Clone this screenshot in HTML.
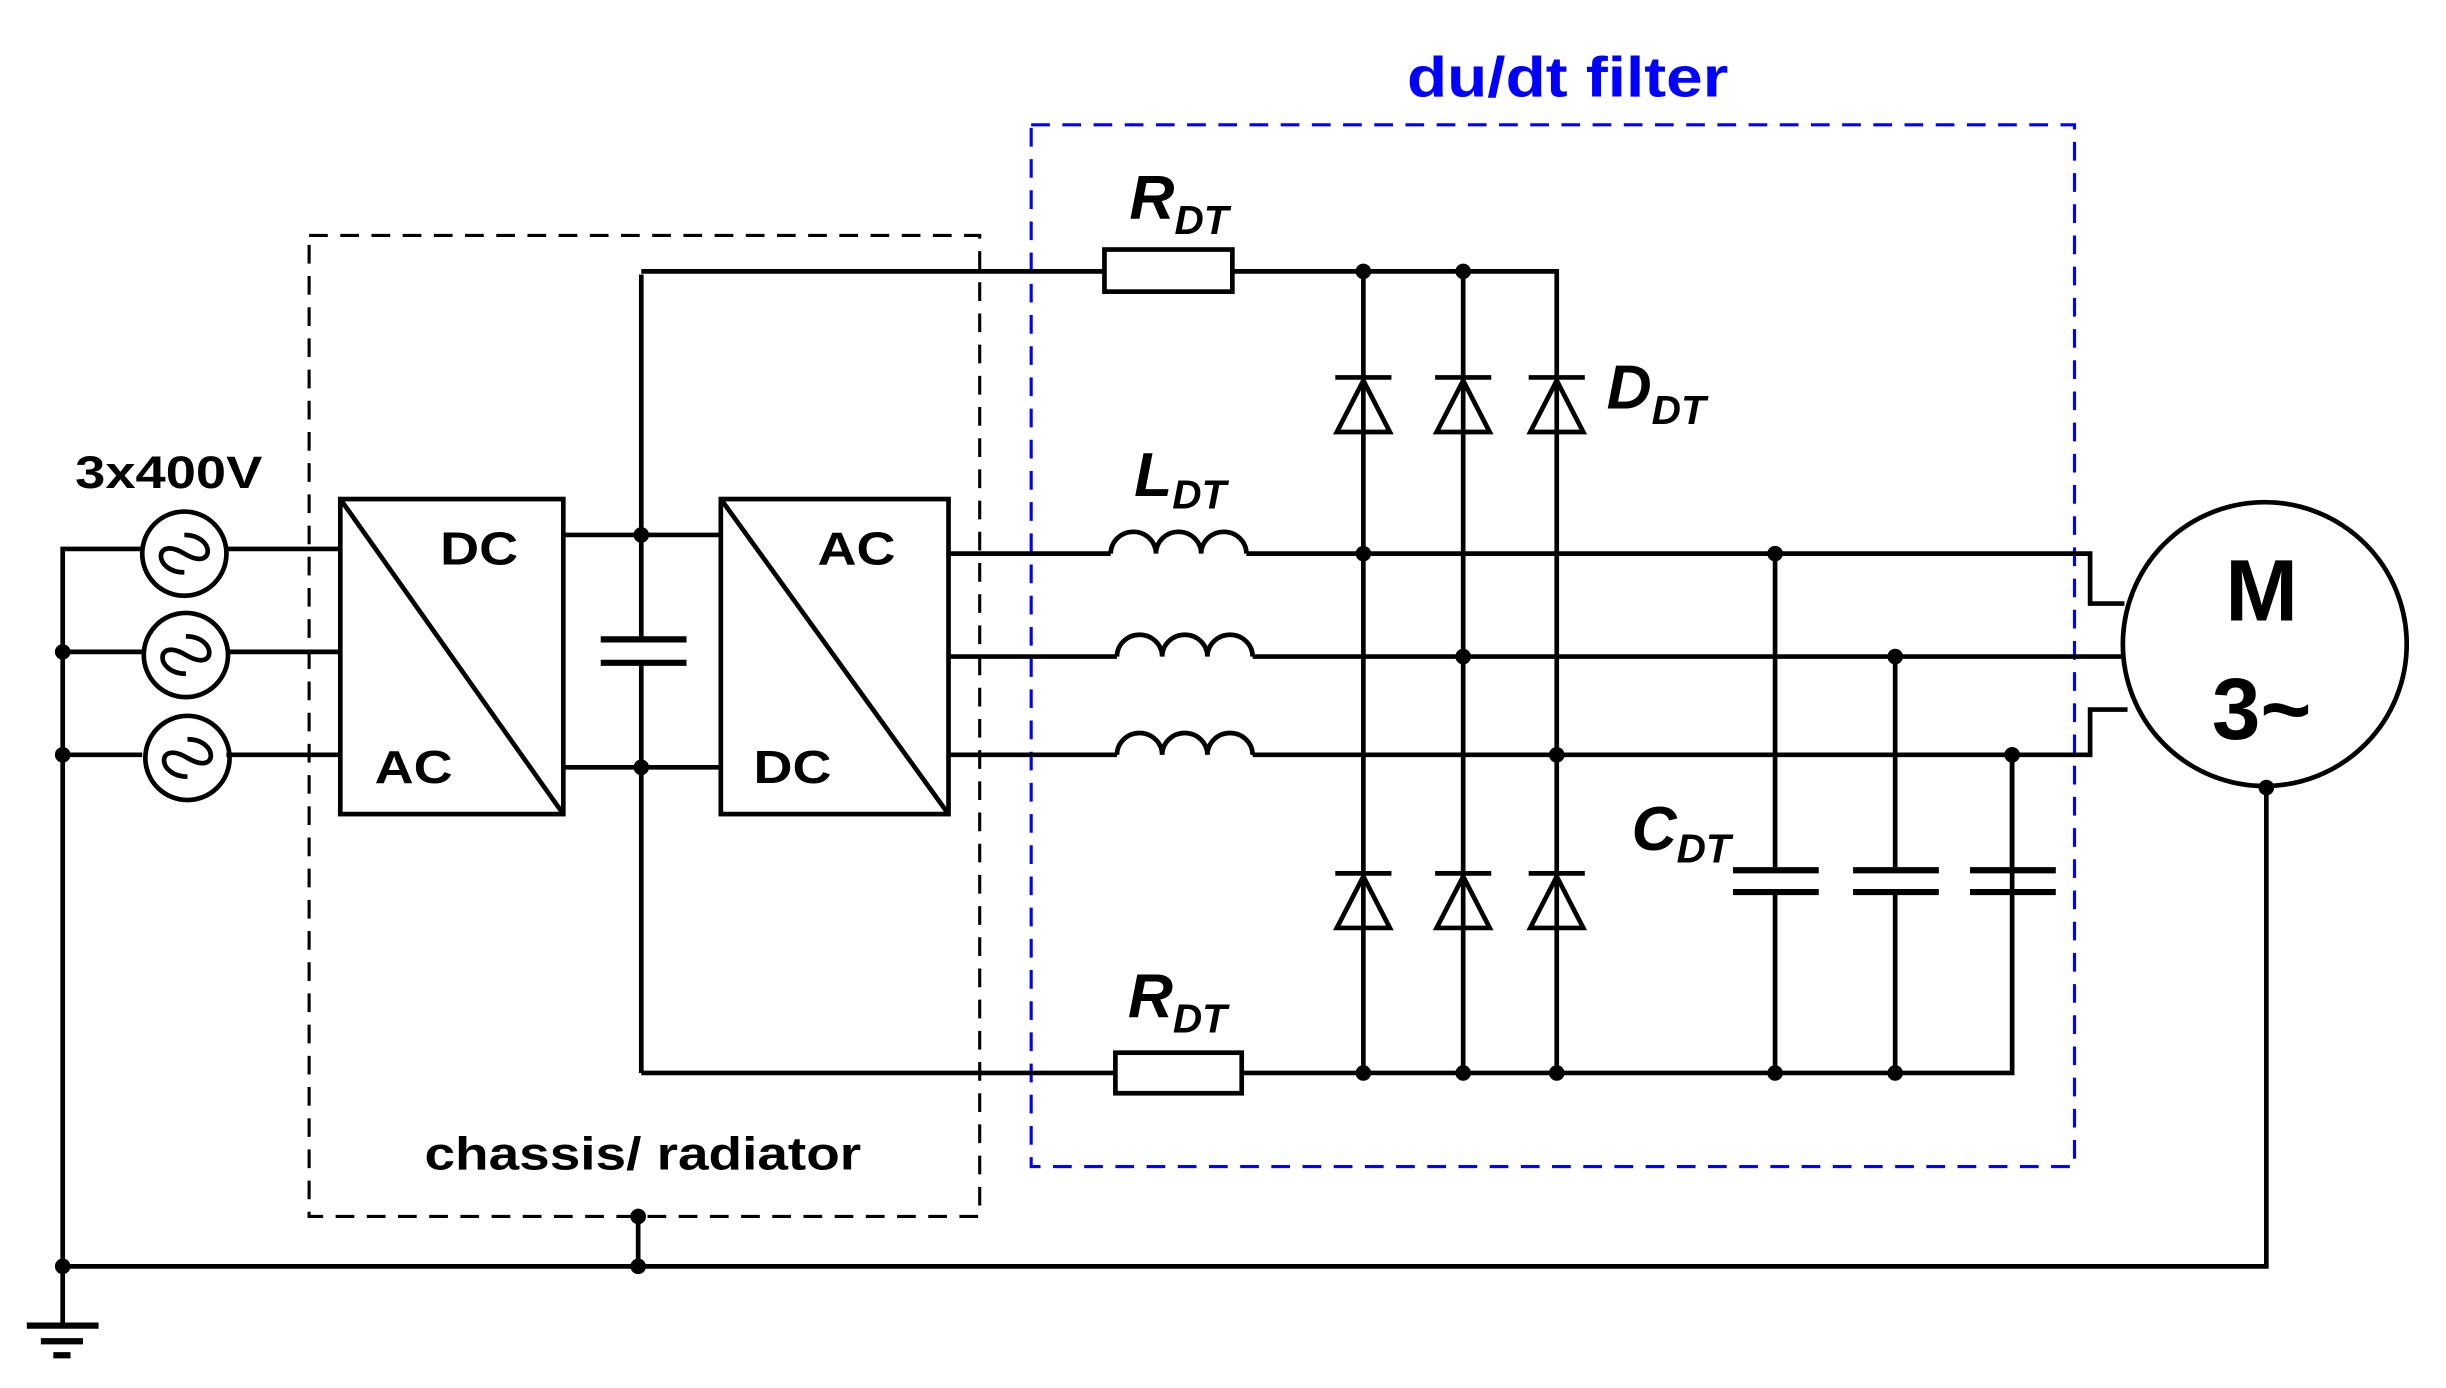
<!DOCTYPE html>
<html><head><meta charset="utf-8"><style>
html,body{margin:0;padding:0;background:#fff;}
svg{display:block;}
text{font-family:"Liberation Sans",sans-serif;font-weight:bold;}
</style></head><body>
<svg width="2446" height="1388" viewBox="0 0 1568 890" xmlns="http://www.w3.org/2000/svg">
<g fill="none" stroke="#000" stroke-width="3">
<rect x="198" y="151" width="430" height="629" stroke-dasharray="12,8" stroke-width="2"/>
<rect x="661" y="80" width="669" height="668" stroke="#0000ff" stroke-dasharray="12,8" stroke-width="2"/>
<polyline points="90,352 40,352 40,850"/>
<line x1="40" y1="418" x2="91" y2="418"/>
<line x1="40" y1="484" x2="91" y2="484"/>
<line x1="145" y1="352" x2="218" y2="352"/>
<line x1="145" y1="418" x2="218" y2="418"/>
<line x1="145" y1="484" x2="218" y2="484"/>
<circle cx="118" cy="355" r="27"/>
<circle cx="119" cy="420" r="27"/>
<circle cx="120" cy="486" r="27"/>
<path d="M106,355 C106,335 130,335 118,355 C106,375 130,375 130,355" transform="rotate(90 118 355)"/>
<path d="M107,420 C107,400 131,400 119,420 C107,440 131,440 131,420" transform="rotate(90 119 420)"/>
<path d="M108,486 C108,466 132,466 120,486 C108,506 132,506 132,486" transform="rotate(90 120 486)"/>
<rect x="218" y="320" width="143" height="202"/>
<line x1="218" y1="320" x2="361" y2="522"/>
<line x1="361" y1="343" x2="462" y2="343"/>
<line x1="361" y1="492" x2="462" y2="492"/>
<line x1="411" y1="176" x2="411" y2="410"/>
<line x1="411" y1="425" x2="411" y2="688"/>
<line x1="385" y1="410" x2="440" y2="410" stroke-width="4"/>
<line x1="385" y1="425" x2="440" y2="425" stroke-width="4"/>
<rect x="462" y="320" width="146" height="202"/>
<line x1="462" y1="320" x2="608" y2="522"/>
<line x1="411" y1="174" x2="708" y2="174"/>
<rect x="708" y="160" width="82" height="27"/>
<polyline points="790,174 998,174 998,688"/>
<line x1="411" y1="688" x2="715" y2="688"/>
<rect x="715" y="675" width="81" height="26"/>
<polyline points="796,688 1290,688 1290,484"/>
<line x1="608" y1="355" x2="712" y2="355"/>
<path d="M712,355 a14.5,14 0 0 1 29,0 a14.5,14 0 0 1 29,0 a14.5,14 0 0 1 29,0"/>
<polyline points="799,355 1340,355 1340,387 1362,387"/>
<line x1="608" y1="421" x2="716" y2="421"/>
<path d="M716,421 a14.5,14 0 0 1 29,0 a14.5,14 0 0 1 29,0 a14.5,14 0 0 1 29,0"/>
<line x1="803" y1="421" x2="1360" y2="421"/>
<line x1="608" y1="484" x2="716" y2="484"/>
<path d="M716,484 a14.5,14 0 0 1 29,0 a14.5,14 0 0 1 29,0 a14.5,14 0 0 1 29,0"/>
<polyline points="803,484 1340,484 1340,455 1364,455"/>
<line x1="874" y1="174" x2="874" y2="688"/>
<line x1="938" y1="174" x2="938" y2="688"/>
<g stroke-width="3">
<line x1="856" y1="242" x2="892" y2="242"/><polygon points="874,244 857,277 891,277"/>
<line x1="920" y1="242" x2="956" y2="242"/><polygon points="938,244 921,277 955,277"/>
<line x1="980" y1="242" x2="1016" y2="242"/><polygon points="998,244 981,277 1015,277"/>
<line x1="856" y1="560" x2="892" y2="560"/><polygon points="874,562 857,595 891,595"/>
<line x1="920" y1="560" x2="956" y2="560"/><polygon points="938,562 921,595 955,595"/>
<line x1="980" y1="560" x2="1016" y2="560"/><polygon points="998,562 981,595 1015,595"/>
</g>
<line x1="1138" y1="355" x2="1138" y2="556"/><line x1="1138" y1="570" x2="1138" y2="688"/>
<line x1="1215" y1="421" x2="1215" y2="556"/><line x1="1215" y1="570" x2="1215" y2="688"/>
<line x1="1290" y1="484" x2="1290" y2="556"/>
<g stroke-width="4">
<line x1="1111" y1="558" x2="1166" y2="558"/><line x1="1111" y1="572" x2="1166" y2="572"/>
<line x1="1188" y1="558" x2="1243" y2="558"/><line x1="1188" y1="572" x2="1243" y2="572"/>
<line x1="1263" y1="558" x2="1318" y2="558"/><line x1="1263" y1="572" x2="1318" y2="572"/>
</g>
<circle cx="1452" cy="413" r="91"/>
<polyline points="40,812 1453,812 1453,505"/>
<line x1="409" y1="780" x2="409" y2="812"/>
<line x1="17" y1="850" x2="63" y2="850" stroke-width="4"/>
<line x1="26" y1="860" x2="53" y2="860" stroke-width="4"/>
<line x1="34" y1="869" x2="45" y2="869" stroke-width="4"/>
</g>
<g fill="#000">
<circle cx="40" cy="418" r="5"/><circle cx="40" cy="484" r="5"/><circle cx="40" cy="812" r="5"/>
<circle cx="411" cy="343" r="5"/><circle cx="411" cy="492" r="5"/>
<circle cx="409" cy="780" r="5"/><circle cx="409" cy="812" r="5"/>
<circle cx="874" cy="174" r="5"/><circle cx="938" cy="174" r="5"/>
<circle cx="874" cy="355" r="5"/><circle cx="938" cy="421" r="5"/><circle cx="998" cy="484" r="5"/>
<circle cx="1138" cy="355" r="5"/><circle cx="1215" cy="421" r="5"/><circle cx="1290" cy="484" r="5"/>
<circle cx="874" cy="688" r="5"/><circle cx="938" cy="688" r="5"/><circle cx="998" cy="688" r="5"/>
<circle cx="1138" cy="688" r="5"/><circle cx="1215" cy="688" r="5"/>
<circle cx="1453" cy="505" r="5"/>
</g>
<g fill="#000">
<text x="48" y="313" font-size="29" textLength="120" lengthAdjust="spacingAndGlyphs">3x400V</text>
<text x="282" y="362" font-size="30" textLength="50" lengthAdjust="spacingAndGlyphs">DC</text>
<text x="240" y="502" font-size="30" textLength="50" lengthAdjust="spacingAndGlyphs">AC</text>
<text x="524" y="362" font-size="30" textLength="50" lengthAdjust="spacingAndGlyphs">AC</text>
<text x="483" y="502" font-size="30" textLength="50" lengthAdjust="spacingAndGlyphs">DC</text>
<text x="272" y="750" font-size="30" textLength="280" lengthAdjust="spacingAndGlyphs">chassis/ radiator</text>
<text x="902" y="62" font-size="36" fill="#0000ff" textLength="206" lengthAdjust="spacingAndGlyphs">du/dt filter</text>
<text x="724" y="140" font-size="40" font-style="italic">R<tspan font-size="26" dy="10">DT</tspan></text>
<text x="727" y="318" font-size="40" font-style="italic">L<tspan font-size="26" dy="8">DT</tspan></text>
<text x="1030" y="262" font-size="40" font-style="italic">D<tspan font-size="26" dy="10">DT</tspan></text>
<text x="1046" y="545" font-size="40" font-style="italic">C<tspan font-size="26" dy="8">DT</tspan></text>
<text x="723" y="652" font-size="40" font-style="italic">R<tspan font-size="26" dy="10">DT</tspan></text>
<text x="1450" y="398" font-size="56" text-anchor="middle">M</text>
<text x="1450" y="474" font-size="56" text-anchor="middle">3~</text>
</g>
</svg>
</body></html>
